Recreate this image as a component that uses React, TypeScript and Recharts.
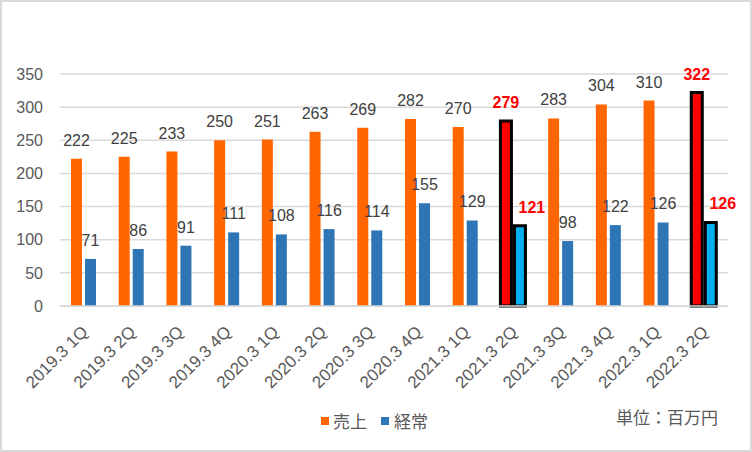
import React from 'react';
import { BarChart, Bar, XAxis, YAxis, CartesianGrid, Legend, LabelList, Cell } from 'recharts';

const categories = [
  '2019.3 1Q', '2019.3 2Q', '2019.3 3Q', '2019.3 4Q',
  '2020.3 1Q', '2020.3 2Q', '2020.3 3Q', '2020.3 4Q',
  '2021.3 1Q', '2021.3 2Q', '2021.3 3Q', '2021.3 4Q',
  '2022.3 1Q', '2022.3 2Q',
];
const sales = [222, 225, 233, 250, 251, 263, 269, 282, 270, 279, 283, 304, 310, 322];
const ordinary = [71, 86, 91, 111, 108, 116, 114, 155, 129, 121, 98, 122, 126, 126];
const highlighted = ['2021.3 2Q', '2022.3 2Q'];
const yTicks = [0, 50, 100, 150, 200, 250, 300, 350];

const data = categories.map((cat, i) => ({
  cat,
  sales: sales[i],
  ordinary: ordinary[i],
  hl: highlighted.includes(cat),
}));

const FONT = '"Liberation Sans", Arial, sans-serif';
const JP = '"Noto Sans CJK JP", "Noto Sans", sans-serif';
const GRAY = '#595959';

const makeLabel = (shiftHl: number) => (props: any) => {
  const { x, y, width, value, index } = props;
  const hl = data[index]?.hl;
  return (
    <text
      x={x + width / 2 + (hl ? shiftHl : 0)}
      y={y - 13}
      textAnchor="middle"
      fontFamily={FONT}
      fontSize={16}
      fontWeight={hl ? 700 : 400}
      fill={hl ? '#FF0000' : '#404040'}
    >
      {value}
    </text>
  );
};

const XTick = (props: any) => {
  const { x, y, payload } = props;
  return (
    <g transform={`translate(${x + 5},${y + 19})`}>
      <text textAnchor="end" transform="rotate(-45)" fontFamily={FONT} fontSize={17} fill={GRAY}>
        {payload.value}
      </text>
    </g>
  );
};

const LegendBox = () => (
  <div style={{ position: 'relative', height: 46, fontFamily: JP, color: GRAY, fontSize: 17 }}>
    <div style={{ position: 'absolute', left: 319, top: 4, display: 'flex', alignItems: 'center' }}>
      <span style={{ width: 8, height: 8, background: '#FF6600', display: 'inline-block', marginRight: 4 }} />
      <span>売上</span>
      <span style={{ width: 8, height: 8, background: '#2E75B6', display: 'inline-block', marginLeft: 14, marginRight: 5 }} />
      <span>経常</span>
    </div>
    <div style={{ position: 'absolute', left: 614, top: 0 }}>単位：百万円</div>
  </div>
);

export default function App() {
  return (
    <div
      style={{
        position: 'absolute', left: 0, top: 0, width: 752, height: 452,
        boxSizing: 'border-box', border: '2px solid #D9D9D9', background: '#fff',
      }}
    >
      <BarChart
        width={748}
        height={448}
        data={data}
        margin={{ top: 72, right: 22, bottom: 0, left: 0 }}
        barSize={11}
        barGap={3}
      >
        <CartesianGrid vertical={false} stroke="#D9D9D9" strokeWidth={1.5} />
        <XAxis
          dataKey="cat"
          interval={0}
          tickLine={false}
          axisLine={{ stroke: '#D9D9D9', strokeWidth: 1.5 }}
          height={98}
          tick={<XTick />}
        />
        <YAxis
          domain={[0, 350]}
          ticks={yTicks}
          axisLine={false}
          tickLine={false}
          width={58}
          tickMargin={11}
          tick={{ fill: GRAY, fontSize: 16, fontFamily: FONT }}
        />
        <Legend verticalAlign="bottom" height={46} content={<LegendBox />} />
        <Bar dataKey="sales" name="売上" fill="#FF6600" isAnimationActive={false}>
          {data.map((d) => (
            <Cell
              key={d.cat}
              fill={d.hl ? '#FF0000' : '#FF6600'}
              stroke={d.hl ? '#000' : 'none'}
              strokeWidth={d.hl ? 3 : 0}
            />
          ))}
          <LabelList dataKey="sales" content={makeLabel(0)} />
        </Bar>
        <Bar dataKey="ordinary" name="経常" fill="#2E75B6" isAnimationActive={false}>
          {data.map((d) => (
            <Cell
              key={d.cat}
              fill={d.hl ? '#00B0F0' : '#2E75B6'}
              stroke={d.hl ? '#000' : 'none'}
              strokeWidth={d.hl ? 3 : 0}
            />
          ))}
          <LabelList dataKey="ordinary" content={makeLabel(12)} />
        </Bar>
      </BarChart>
    </div>
  );
}
